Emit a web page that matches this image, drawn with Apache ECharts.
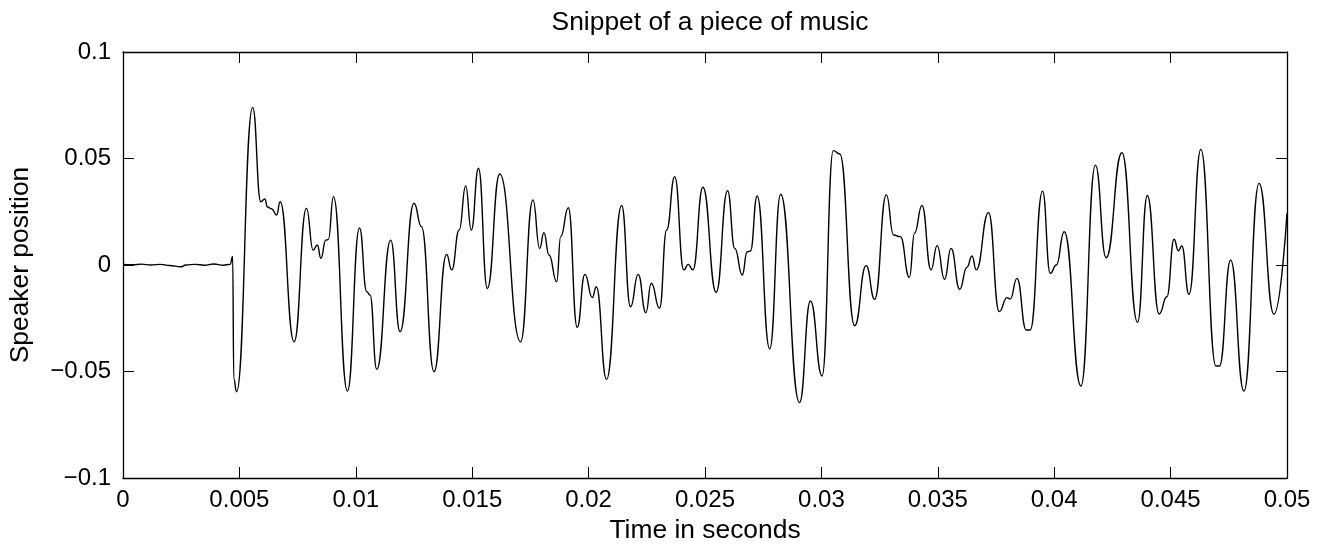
<!DOCTYPE html>
<html><head><meta charset="utf-8">
<script src="https://cdn.jsdelivr.net/npm/echarts@6/dist/echarts.min.js"></script>
<style>html,body{margin:0;padding:0;background:#fff}#c{width:1328px;height:549px}</style>
</head><body><div id="c"></div>
<script>
// Time (s) and speaker position, read at the waveform's turning points
const times = [
  0, 0.0004, 0.0008, 0.0012, 0.0016, 0.0020, 0.0025, 0.0027, 0.0031, 0.0035, 0.0039, 0.0043, 0.0046,
  0.00471, 0.00476, 0.00488, 0.00557, 0.00592, 0.00609, 0.00621, 0.00638, 0.00660, 0.00675,
  0.00735, 0.00788, 0.00817, 0.00835, 0.00850, 0.00871, 0.00882, 0.00904, 0.00964,
  0.01016, 0.01047, 0.01061, 0.01090, 0.01150, 0.01190, 0.01250, 0.01282, 0.01336,
  0.01390, 0.01412, 0.01444, 0.01472, 0.01496, 0.01527, 0.01565, 0.01618, 0.01708,
  0.01761, 0.01790, 0.01808, 0.01830, 0.01863, 0.01880, 0.01913, 0.01951, 0.01984,
  0.02016, 0.02033, 0.02077, 0.02142, 0.02180, 0.02213, 0.02246, 0.02269, 0.02305,
  0.02335, 0.02370, 0.02409, 0.02428, 0.02448, 0.02491, 0.02548, 0.02597, 0.02628,
  0.02660, 0.02681, 0.02695, 0.02724, 0.02778, 0.02825, 0.02906, 0.02953, 0.03003,
  0.03051, 0.03079, 0.03143, 0.03192, 0.03229, 0.03279, 0.03310, 0.03339, 0.03378,
  0.03400, 0.03432, 0.03471, 0.03497, 0.03529, 0.03557, 0.03594, 0.03625, 0.03647,
  0.03665, 0.03718, 0.03764, 0.03797, 0.03811, 0.03840, 0.03880, 0.03897, 0.03950,
  0.03983, 0.04009, 0.04043, 0.04115, 0.04177, 0.04223, 0.04291, 0.04358, 0.04400,
  0.04451, 0.04484, 0.04515, 0.04533, 0.04548, 0.04579, 0.04630, 0.04695, 0.04710,
  0.04758, 0.04815, 0.04880, 0.04944, 0.05000
];
const positions = [
  0.0003, 0.0001, 0.0004, 0.0000, 0.0003, -0.0002, -0.0008, 0.0000, 0.0003, -0.0001, 0.0005, -0.0001, 0.0003,
  0.0040, -0.0535, -0.0595, 0.0740, 0.0297, 0.0310, 0.0272, 0.0264, 0.0235, 0.0297,
  -0.0360, 0.0266, 0.0070, 0.0094, 0.0031, 0.0117, 0.0120, 0.0321, -0.0592,
  0.0174, -0.0125, -0.0141, -0.0490, 0.0117, -0.0313, 0.0290, 0.0180, -0.0501,
  0.0050, -0.0023, 0.0164, 0.0371, 0.0164, 0.0454, -0.0110, 0.0427, -0.0360,
  0.0305, 0.0078, 0.0152, 0.0047, -0.0078, 0.0133, 0.0269, -0.0293, -0.0044,
  -0.0153, -0.0102, -0.0537, 0.0279, -0.0196, -0.0044, -0.0224, -0.0086, -0.0203,
  0.0164, 0.0415, -0.0023, 0.0003, -0.0023, 0.0365, -0.0128, 0.0349, 0.0078,
  -0.0047, 0.0062, 0.0066, 0.0324, -0.0394, 0.0332, -0.0646, -0.0169, -0.0521,
  0.0537, 0.0521, -0.0285, -0.0003, -0.0161, 0.0329, 0.0141, 0.0133, -0.0058,
  0.0149, 0.0279, -0.0023, 0.0091, -0.0067, 0.0078, -0.0114, -0.0011, 0.0042,
  -0.0023, 0.0246, -0.0219, -0.0153, -0.0160, -0.0063, -0.0305, -0.0305, 0.0347,
  -0.0039, 0.0000, 0.0156, -0.0568, 0.0469, 0.0034, 0.0527, -0.0269, 0.0326,
  -0.0230, -0.0149, 0.0121, 0.0067, 0.0089, -0.0138, 0.0543, -0.0474, -0.0474,
  0.0023, -0.0592, 0.0383, -0.0231, 0.0243
];
const xTickLabels = ['0', '0.005', '0.01', '0.015', '0.02', '0.025', '0.03', '0.035', '0.04', '0.045', '0.05'];
const yTickLabels = ['\u22120.1', '\u22120.05', '0', '0.05', '0.1'];
const titleText = 'Snippet of a piece of music';
const xName = 'Time in seconds';
const yName = 'Speaker position';

const FONT = '"Liberation Sans", Arial, Helvetica, sans-serif';
const FS = 24;      // tick labels
const FS_L = 26.4;  // axis names and title (1.1x)
const chart = echarts.init(document.getElementById('c'), null, {renderer: 'canvas'});
const lineC = '#000';
const tickStyle = {show: true, inside: true, length: 11, lineStyle: {color: lineC, width: 1}};
const axLine = {show: true, onZero: false, lineStyle: {color: lineC, width: 1.3}};
chart.setOption({
  animation: false,
  backgroundColor: '#fff',
  title: {
    text: titleText, left: 705, top: 5, textAlign: 'center',
    textStyle: {fontFamily: FONT, fontSize: FS_L, fontWeight: 'normal', color: '#000'}
  },
  grid: {left: 122, right: 41, top: 52, bottom: 71, containLabel: false},
  xAxis: [
    {type: 'value', min: 0, max: 0.05, interval: 0.005, position: 'bottom',
     axisLine: axLine, axisTick: tickStyle, splitLine: {show: false},
     axisLabel: {margin: 10, fontFamily: FONT, fontSize: FS, color: '#000',
       formatter: v => xTickLabels[Math.round(v / 0.005)]},
     name: xName, nameLocation: 'middle', nameGap: 40,
     nameTextStyle: {fontFamily: FONT, fontSize: FS_L, color: '#000'}},
    {type: 'value', min: 0, max: 0.05, interval: 0.005, position: 'top',
     axisLine: axLine, axisTick: tickStyle, splitLine: {show: false}, axisLabel: {show: false}}
  ],
  yAxis: [
    {type: 'value', min: -0.1, max: 0.1, interval: 0.05, position: 'left',
     axisLine: axLine, axisTick: tickStyle, splitLine: {show: false},
     axisLabel: {margin: 12, fontFamily: FONT, fontSize: FS, color: '#000',
       formatter: v => yTickLabels[Math.round((v + 0.1) / 0.05)]},
     name: yName, nameLocation: 'middle', nameGap: 89,
     nameTextStyle: {fontFamily: FONT, fontSize: FS_L, color: '#000'}},
    {type: 'value', min: -0.1, max: 0.1, interval: 0.05, position: 'right',
     axisLine: axLine, axisTick: tickStyle, splitLine: {show: false}, axisLabel: {show: false}}
  ],
  series: [{
    type: 'line', xAxisIndex: 0, yAxisIndex: 0,
    data: times.map((t, i) => [t, positions[i]]),
    showSymbol: false, symbol: 'none',
    smooth: 0.5, smoothMonotone: 'x',
    lineStyle: {color: '#000', width: 1.4},
    clip: true
  }]
});
</script>
</body></html>
